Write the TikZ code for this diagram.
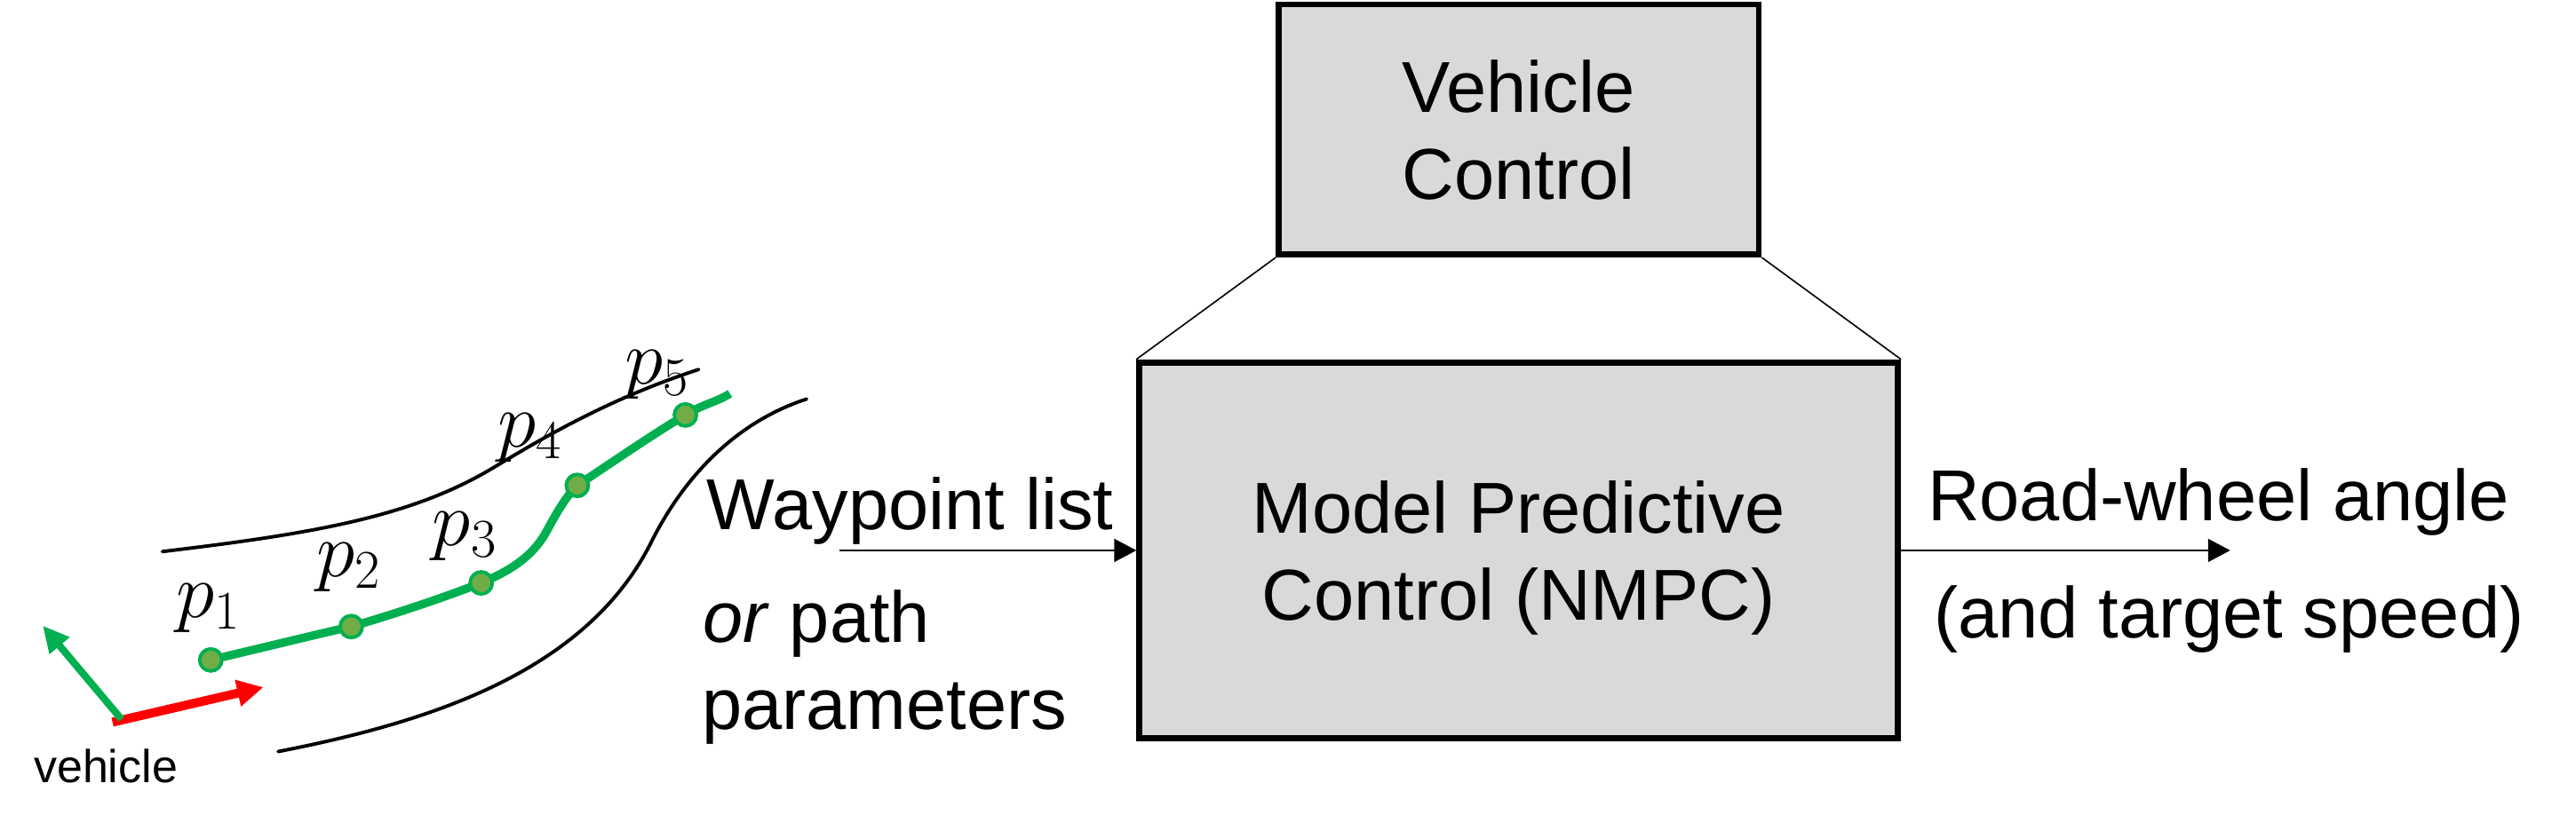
\RequirePackage{fix-cm}
\documentclass[tikz,border=0pt]{standalone}
\usepackage[no-math]{fontspec}
\setmainfont{Liberation Sans}
\usetikzlibrary{arrows.meta}
\definecolor{boxgray}{HTML}{D9D9D9}
\definecolor{pathgreen}{HTML}{00B050}
\definecolor{dotgreen}{HTML}{70AD47}
\definecolor{axisred}{HTML}{FF0000}
\newcommand*{\px    }{0.02cm}
\newcommand*{\boxlw }{2.1pt}
\newcommand*{\roadlw}{1.2pt}
\newcommand*{\dotd  }{0.27cm}
\makeatletter
\newcommand\bigtxt{\@setfontsize\bigtxt{25}{30}}
\newcommand\smalltxt{\@setfontsize\smalltxt{16}{19}}
\newcommand\mathtxt{\@setfontsize\mathtxt{27}{30}}
\makeatother

\begin{document}
\begin{tikzpicture}[x=\px, y=-\px,
    blockbox/.style={draw, line width=\boxlw, fill=boxgray, align=center, font=\bigtxt, inner sep=0pt, text depth=0pt},
    txt/.style={inner sep=0pt, font=\bigtxt, anchor=base west},
    flow/.style={line width=0.7pt, -{Triangle[length=0.27cm, width=0.28cm]}},
    road/.style={line width=\roadlw, line cap=round},
    route/.style={draw=pathgreen, line width=2.9pt, line join=round},
    wpt/.style={circle, draw=pathgreen, fill=dotgreen, line width=1.2pt, minimum size=\dotd, inner sep=0pt},
    ptlabel/.style={inner sep=0pt, font=\mathtxt}]
    \useasboundingbox (0,0) rectangle (1568,501);
        % road borders
        \draw [road] (98.8,335.9) .. controls (190,325) and (250,315) .. (300,285)
                                  .. controls (330,267) and (370,243) .. (425.3,225);
        \draw [road] (169.3,457.7) .. controls (260,440) and (356.5,410) .. (396.5,330)
                                   .. controls (414.5,294) and (445,258) .. (491,243);
        % waypoints
        \foreach \n/\x/\y in {1/128.3/401.9, 2/213.8/381.6, 3/292.9/355, 4/351.4/295.6, 5/417.2/252.7}
            \coordinate (w\n) at (\x,\y);
        \coordinate (wend) at (444.3,239.7);
        \draw [route] (w1) .. controls (170,392) and (190,387) .. (w2)
                           .. controls (240,374) and (270,364) .. (w3)
                           .. controls (312,347) and (325,338) .. (333,323)
                           .. controls (340,310) and (345,302) .. (w4)
                           .. controls (375,280) and (395,266) .. (w5)
                           .. controls (428,246) and (436,245) .. (wend);
        \foreach \n in {1,...,5}
            \node [wpt] (p\n) at (w\n) {};
        \node [ptlabel] (l1) at (127,370.4) {$p_1$};
        \node [ptlabel] (l2) at (212.6,345.4) {$p_2$};
        \node [ptlabel] (l3) at (283,326.6) {$p_3$};
        \node [ptlabel] (l4) at (322.6,266.7) {$p_4$};
        \node [ptlabel] (l5) at (400,228) {$p_5$};
        % vehicle frame
        \coordinate (xbase) at (68.5,439.8);
        \coordinate (xtip)  at (160.4,418.5);
        \coordinate (ybase) at (73.9,438);
        \coordinate (ytip)  at (26,381);
        \draw [draw=axisred, line width=3.1pt, -{Triangle[length=0.32cm, width=0.31cm]}] (xbase) -- (xtip);
        \draw [draw=pathgreen, fill=pathgreen, line width=2.5pt, -{Triangle[length=0.32cm, width=0.3cm]}] (ybase) -- (ytip);
        \node [inner sep=0pt, font=\smalltxt, anchor=base] (vehlabel) at (64.4,476.7) {vehicle};
        % controller blocks
        \node [blockbox, minimum width=5.846cm, minimum height=3.046cm] (vc) at (924.45,78.85) {Vehicle\\Control};
        \node [blockbox, minimum width=9.236cm, minimum height=4.582cm] (mpc) at (924.4,335.2) {Model Predictive\\Control (NMPC)};
        \draw [line width=0.5pt] (vc.south west) -- (mpc.north west);
        \draw [line width=0.5pt] (vc.south east) -- (mpc.north east);
        % inputs and outputs
        \coordinate (wpin)  at (510.7,335.2);
        \coordinate (rwout) at (1357.5,335.2);
        \draw [flow] (wpin) -- (mpc.west);
        \draw [flow] (mpc.east) -- (rwout);
        \node [txt] (wplist)  at (430,322.6)  {Waypoint list};
        \node [txt] (orpath)  at (427.5,391)  {\textit{or} path};
        \node [txt] (params)  at (427,444.3)  {parameters};
        \node [txt] (rwangle) at (1173,317.2) {Road-wheel angle};
        \node [txt] (tspeed)  at (1177,388.3) {(and target speed)};
        %\draw [red] (0,0) rectangle (1568,501);
\end{tikzpicture}
\end{document}
